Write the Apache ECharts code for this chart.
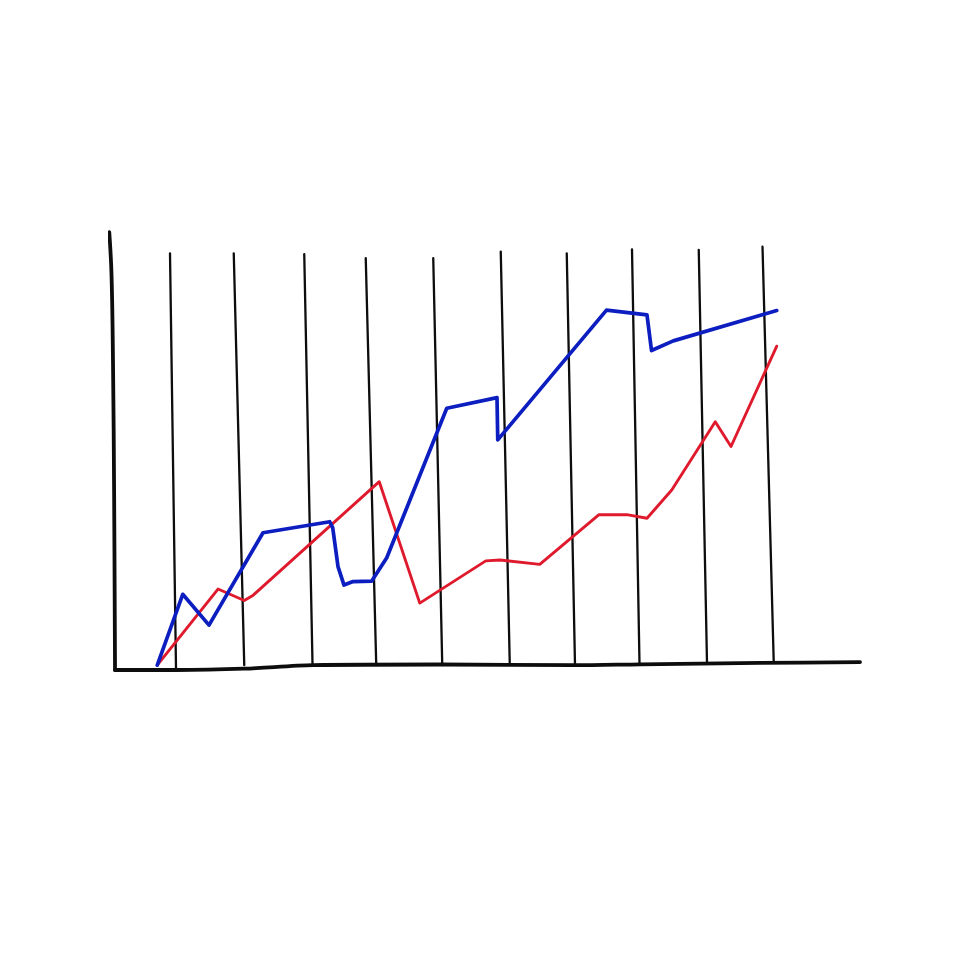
<!DOCTYPE html>
<html>
<head>
<meta charset="utf-8">
<script src="https://cdn.jsdelivr.net/npm/echarts@6/dist/echarts.min.js"></script>
<style>html,body{margin:0;padding:0;background:#fff;}#c{width:980px;height:980px;}</style>
</head>
<body>
<div id="c"></div>
<script>
// Hand-drawn chart: values (arbitrary units 0-100)
var blueX = [6.3, 9.7, 13.2, 20.4, 29.3, 29.7, 30.4, 31.2, 32.4, 34.9, 36.9, 44.9, 51.6, 51.7, 66.2, 71.6, 72.2, 75.1, 88.9];
var blueY = [1.1, 17.2, 10.2, 31.2, 33.7, 32.3, 23.5, 19.3, 20.1, 20.2, 25.5, 59.5, 61.9, 52.3, 81.8, 80.7, 72.6, 74.8, 81.7];

var redX = [6.3, 14.4, 17.9, 19.1, 35.9, 41.3, 50.1, 52.0, 57.3, 65.2, 68.9, 71.6, 74.9, 80.7, 82.8, 88.9];
var redY = [1.1, 18.4, 15.8, 17.0, 42.8, 15.2, 24.8, 25.0, 24.0, 35.3, 35.3, 34.5, 40.9, 56.4, 50.8, 73.6];

// vertical hand-drawn divider lines (top and bottom ends)
var gridTopX = [8.0, 16.5, 25.9, 34.1, 43.1, 52.1, 60.9, 69.6, 78.5, 87.0];
var gridTopY = [94.7, 94.7, 94.5, 93.6, 93.6, 95.1, 94.7, 95.6, 95.5, 96.2];
var gridBotX = [8.8, 17.9, 27.0, 35.5, 44.3, 53.3, 62.0, 70.6, 79.6, 88.5];
var gridBotY = [0.4, 1.1, 1.4, 1.1, 1.1, 1.4, 1.1, 1.4, 1.6, 1.6];

// hand-drawn axes
var leftAxisX = [-0.1, 0.2, 0.4, 0.55, 0.67];
var leftAxisY = [99.5, 90.0, 70.0, 40.0, 0];
var bottomAxisX = [0.67, 8.8, 17.9, 27.1, 44.0, 62.0, 70.7, 86.7, 100];
var bottomAxisY = [0, 0, 0.3, 1.1, 1.25, 1.1, 1.3, 1.6, 1.8];

function pairs(xs, ys) { return xs.map(function (x, i) { return [x, ys[i]]; }); }

var series = [];
for (var i = 0; i < gridTopX.length; i++) {
  series.push({
    type: 'line', symbol: 'none', clip: false, silent: true,
    data: [[gridTopX[i], gridTopY[i]], [gridBotX[i], gridBotY[i]]],
    lineStyle: { color: '#0d0d0d', width: 2.3, cap: 'round' }
  });
}
series.push({
  type: 'line', symbol: 'none', clip: false, silent: true, smooth: 0.4,
  data: pairs(leftAxisX, leftAxisY),
  lineStyle: { color: '#0d0d0d', width: 3.8, cap: 'round', join: 'round' }
});
series.push({
  type: 'line', symbol: 'none', clip: false, silent: true, smooth: 0.3,
  data: pairs(bottomAxisX, bottomAxisY),
  lineStyle: { color: '#0d0d0d', width: 3.8, cap: 'round', join: 'round' }
});
series.push({
  type: 'line', symbol: 'none', clip: false,
  data: pairs(redX, redY),
  lineStyle: { color: '#df1a2d', width: 2.9, cap: 'round', join: 'round' }
});
series.push({
  type: 'line', symbol: 'none', clip: false,
  data: pairs(blueX, blueY),
  lineStyle: { color: '#0c1ec0', width: 3.7, cap: 'round', join: 'round' }
});

var chart = echarts.init(document.getElementById('c'), null, { renderer: 'canvas' });
chart.setOption({
  animation: false,
  backgroundColor: '#ffffff',
  grid: { left: 110, right: 120, top: 230, bottom: 310 },
  xAxis: { type: 'value', min: 0, max: 100, show: false },
  yAxis: { type: 'value', min: 0, max: 100, show: false },
  series: series
});
</script>
</body>
</html>
